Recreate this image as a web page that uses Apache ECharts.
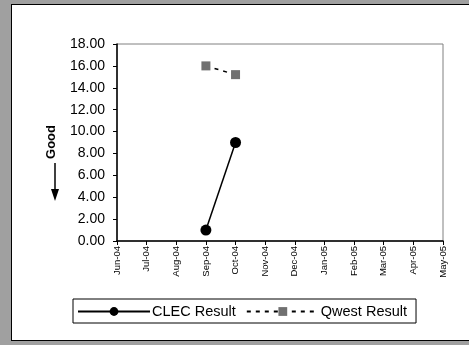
<!DOCTYPE html>
<html>
<head>
<meta charset="utf-8">
<script src="https://cdn.jsdelivr.net/npm/echarts@6/dist/echarts.min.js"></script>
<style>
  html, body { margin: 0; padding: 0; background: #a0a0a0; }
  #panel { position: absolute; left: 11px; top: 4px; width: 470px; height: 335px; background: #fff; border: 1px solid #000; border-right: none; }
  #main { position: absolute; left: 0; top: 0; width: 469px; height: 345px; }
</style>
</head>
<body>
<div id="panel"></div>
<div id="main"></div>
<script>
// 月份类别
var months = ['Jun-04', 'Jul-04', 'Aug-04', 'Sep-04', 'Oct-04', 'Nov-04', 'Dec-04',
              'Jan-05', 'Feb-05', 'Mar-05', 'Apr-05', 'May-05'];
// 两个系列的数据
var clecResult = ['-', '-', '-', 1.0, 9.0, '-', '-', '-', '-', '-', '-', '-'];
var qwestResult = ['-', '-', '-', 16.0, 15.2, '-', '-', '-', '-', '-', '-', '-'];
// y轴刻度
var yMin = 0, yMax = 18, yStep = 2;

var myChart = echarts.init(document.getElementById('main'));

var option = {
    backgroundColor: 'transparent',
    textStyle: { fontFamily: 'Liberation Sans, Arial, sans-serif' },
    grid: { left: 117, right: 26, top: 44, bottom: 104, show: true, borderColor: '#808080', borderWidth: 1, backgroundColor: '#fff' },
    xAxis: {
        type: 'category',
        data: months,
        boundaryGap: false,
        axisLine: { lineStyle: { color: '#000', width: 1.5 } },
        axisTick: { show: true, length: 4, alignWithLabel: true, lineStyle: { color: '#000' } },
        axisLabel: { rotate: 90, fontSize: 9.5, color: '#000', margin: 5, interval: 0 },
        splitLine: { show: false }
    },
    yAxis: {
        type: 'value',
        min: yMin, max: yMax, interval: yStep,
        axisLine: { show: true, lineStyle: { color: '#000', width: 1.5 } },
        axisTick: { show: true, length: 4, lineStyle: { color: '#000' } },
        axisLabel: { fontSize: 14, color: '#000', margin: 12, formatter: function (v) { return v.toFixed(2); } },
        splitLine: { show: false }
    },
    legend: {
        left: 73, top: 299, width: 345,
        itemWidth: 72, itemHeight: 11, itemGap: 10,
        padding: [5, 9, 4, 4],
        borderColor: '#000', borderWidth: 1,
        textStyle: { fontSize: 14.5, color: '#000', padding: [0, 0, 0, -3] },
        data: ['CLEC Result', 'Qwest Result']
    },
    series: [
        {
            name: 'CLEC Result',
            type: 'line',
            data: clecResult,
            symbol: 'circle', symbolSize: 11,
            itemStyle: { color: '#000' },
            lineStyle: { color: '#000', width: 1.5 }
        },
        {
            name: 'Qwest Result',
            type: 'line',
            data: qwestResult,
            symbol: 'rect', symbolSize: 9,
            itemStyle: { color: '#707070' },
            lineStyle: { color: '#000', width: 1.5, type: [4, 5] }
        }
    ],
    graphic: [
        {
            type: 'text', left: 45, top: 125, rotation: Math.PI / 2,
            style: { text: 'Good', font: 'bold 13px Liberation Sans, Arial', fill: '#000' }
        },
        { type: 'line', shape: { x1: 55, y1: 163, x2: 55, y2: 192 }, style: { stroke: '#000', lineWidth: 1.5 } },
        { type: 'polygon', shape: { points: [[51, 189], [59, 189], [55, 201]] }, style: { fill: '#000' } }
    ]
};

myChart.setOption(option);
</script>
</body>
</html>
